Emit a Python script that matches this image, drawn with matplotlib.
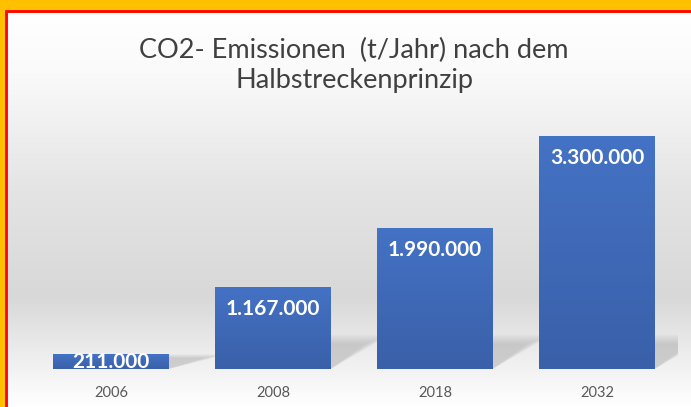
import matplotlib
matplotlib.use("Agg")
import matplotlib.pyplot as plt
import numpy as np
from matplotlib.colors import LinearSegmentedColormap
from matplotlib.patches import Rectangle, Polygon

# data
jahre = ["2006", "2008", "2018", "2032"]
werte = [211000, 1167000, 1990000, 3300000]
labels = ["211.000", "1.167.000", "1.990.000", "3.300.000"]
titel = "CO2- Emissionen  (t/Jahr) nach dem\nHalbstreckenprinzip"

W, H = 691, 407
fig = plt.figure(figsize=(W / 100, H / 100), dpi=100)
fig.patch.set_facecolor("#ffc000")

# background panel with vertical gray gradient
bg = fig.add_axes([8 / W, 0, 1 - 8 / W, (H - 13) / H])
bg.set_axis_off()
stops = [(0.0, "#ffffff"), (0.15, "#fafafa"), (0.45, "#e4e4e4"),
         (0.72, "#d8d8d8"), (0.86, "#ececec"), (1.0, "#ffffff")]
grad_cmap = LinearSegmentedColormap.from_list("bg", stops)
bg.imshow(np.linspace(0, 1, 256)[:, None], aspect="auto", cmap=grad_cmap,
          extent=[0, 1, 0, 1], origin="upper")
bg.set_xlim(0, 1)
bg.set_ylim(0, 1)

# red frame line
fig.patches.append(Rectangle((6 / W, -0.01), 1.1, (H - 11) / H + 0.01,
                             transform=fig.transFigure, fill=False,
                             edgecolor="#ff0000", linewidth=2))

# main chart
ax = fig.add_axes([30 / W, (H - 369) / H, 648 / W, 264 / H])
ax.set_facecolor("none")
ymax = 3300000 * 264 / 233
x = np.arange(len(jahre))
bars = ax.bar(x, werte, width=0.71, color="#3f69b6", zorder=3)

bar_cmap = LinearSegmentedColormap.from_list("bar", ["#4472c4", "#3a60a9"])
for b in bars:
    x0, y0 = b.get_x(), b.get_y()
    w, h = b.get_width(), b.get_height()
    # blurred diagonal shadow to the right
    hs = min(h, ymax * 0.13)
    for k in range(6):
        d = 0.03 * k
        sh = Polygon([(x0 + w * 0.5, 0), (x0 + w, 0),
                      (x0 + w + 0.22 + d, hs * (0.75 + 0.05 * k)),
                      (x0 + w * 0.5 + 0.22 + d, hs * (0.75 + 0.05 * k))],
                     closed=True, facecolor="#000000", alpha=0.022,
                     edgecolor="none", zorder=2)
        ax.add_patch(sh)
    im = ax.imshow(np.linspace(0, 1, 64)[:, None], aspect="auto", cmap=bar_cmap,
                   extent=[x0, x0 + w, y0, y0 + h], origin="upper", zorder=3)
    im.set_clip_path(b)

px = ymax / 264
for xi, v, lab in zip(x, werte, labels):
    yt = max(v - 22 * px, v / 2)
    ax.text(xi, yt, lab, ha="center", va="center", color="white",
            fontsize=15, fontweight="bold", family="Lato", zorder=5,
            clip_on=True)

ax.set_xlim(-0.5, len(jahre) - 0.5)
ax.set_ylim(0, ymax)
ax.set_xticks(x)
ax.set_xticklabels(jahre, family="Lato", fontsize=10.5, color="#595959")
ax.tick_params(axis="x", length=0, pad=12)
ax.set_yticks([])
for s in ax.spines.values():
    s.set_visible(False)

fig.text(354 / W, (H - 65) / H, titel, ha="center", va="center",
         fontsize=19.5, family="Lato", color="#404040", linespacing=1.25)

fig.savefig("out.png", dpi=100, facecolor=fig.get_facecolor())
